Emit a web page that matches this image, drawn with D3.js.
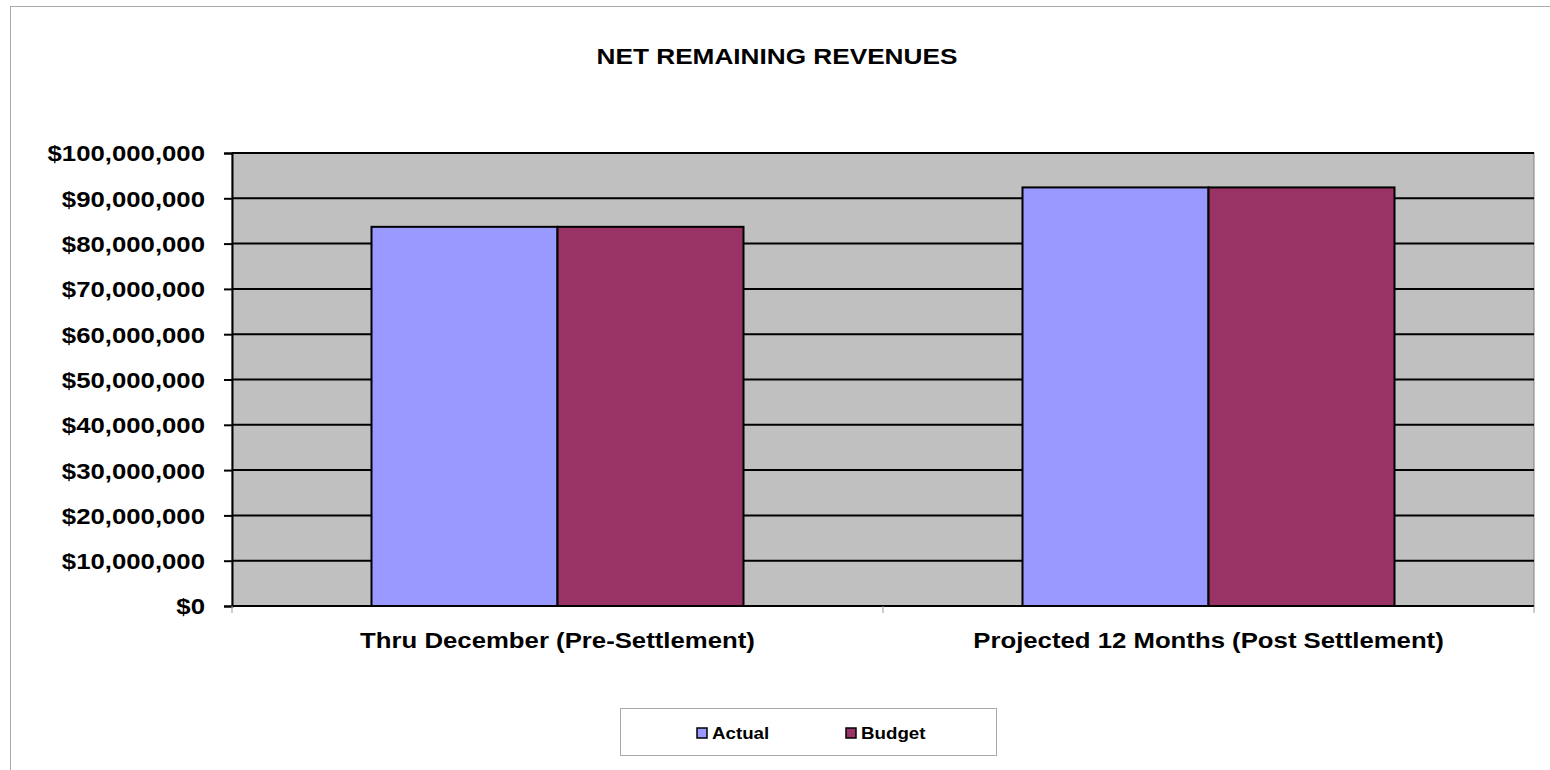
<!DOCTYPE html>
<html>
<head>
<meta charset="utf-8">
<script src="https://cdn.jsdelivr.net/npm/d3@7"></script>
<style>
  body { margin: 0; background: #fff; }
  text { font-family: Arial, "Liberation Sans", sans-serif; font-weight: bold; fill: #000; }
</style>
</head>
<body>
<div id="chart"></div>
<script>
// Chart data
const categories = ["Thru December (Pre-Settlement)", "Projected 12 Months (Post Settlement)"];
const seriesNames = ["Actual", "Budget"];
const actualValues = [83700000, 92400000];
const budgetValues = [83700000, 92400000];
const yTicks = [0, 10000000, 20000000, 30000000, 40000000, 50000000, 60000000, 70000000, 80000000, 90000000, 100000000];
const colors = ["#9999ff", "#993366"];

const width = 1550, height = 770;
const margin = { top: 153, right: 16, bottom: 164, left: 232 };
const innerW = width - margin.left - margin.right;
const innerH = height - margin.top - margin.bottom;

// the original picture is a bit wider than tall, text looks stretched sideways
const textStretch = 1.17;
function stretch(sel, k) {
  sel.each(function() {
    const w = this.getComputedTextLength();
    d3.select(this)
      .attr("textLength", w * k)
      .attr("lengthAdjust", "spacingAndGlyphs");
  });
}

const svg = d3.select("#chart").append("svg")
  .attr("width", width)
  .attr("height", height);

// chart area border
svg.append("rect")
  .attr("x", 10.5).attr("y", 6.5)
  .attr("width", width + 20).attr("height", height + 20)
  .attr("fill", "#fff")
  .attr("stroke", "#aaaaaa");

svg.append("text")
  .attr("x", 777).attr("y", 64)
  .attr("text-anchor", "middle")
  .style("font-size", "22px")
  .text("NET REMAINING REVENUES")
  .call(stretch, 1.19);

const g = svg.append("g").attr("transform", `translate(${margin.left},${margin.top})`);

const x0 = d3.scaleBand().domain(categories).range([0, innerW]).paddingInner(0);
// Excel gap width 150%: two bars take 2/3.5 of each category
const x1 = d3.scaleBand().domain(seriesNames)
  .range([x0.bandwidth() * 0.75 / 3.5, x0.bandwidth() * (1 - 0.75 / 3.5)]);
const y = d3.scaleLinear().domain([0, 100000000]).range([innerH, 0]);

// plot area
g.append("rect")
  .attr("width", innerW).attr("height", innerH)
  .attr("fill", "#c0c0c0")
  .attr("stroke", "#808080");

// gridlines
g.selectAll(".grid").data(yTicks.slice(1)).join("line")
  .attr("x1", 0).attr("x2", innerW)
  .attr("y1", d => y(d)).attr("y2", d => y(d))
  .attr("stroke", "#000").attr("stroke-width", 2);

// bars
const table = categories.map((c, i) => ({ cat: c, values: [actualValues[i], budgetValues[i]] }));
g.selectAll(".grp").data(table).join("g")
  .attr("transform", d => `translate(${x0(d.cat)},0)`)
  .selectAll("rect").data(d => d.values.map((v, j) => ({ key: seriesNames[j], v, j })))
  .join("rect")
  .attr("x", d => x1(d.key))
  .attr("width", x1.bandwidth())
  .attr("y", d => y(d.v))
  .attr("height", d => innerH - y(d.v))
  .attr("fill", d => colors[d.j])
  .attr("stroke", "#000").attr("stroke-width", 2);

// y axis
const yAxis = d3.axisLeft(y).tickValues(yTicks).tickSize(8).tickPadding(19)
  .tickFormat(d => "$" + d3.format(",")(d));
const yAxisG = g.append("g").call(yAxis);
yAxisG.select(".domain").attr("stroke", "#000").attr("stroke-width", 2);
yAxisG.selectAll(".tick line").attr("stroke", "#000").attr("stroke-width", 2);
yAxisG.selectAll("text")
  .attr("fill", "#000")
  .style("font-size", "22px")
  .attr("dy", "0.36em")
  .call(stretch, textStretch);

// x axis
const xAxisG = g.append("g").attr("transform", `translate(0,${innerH})`);
xAxisG.append("line").attr("x1", 0).attr("x2", innerW)
  .attr("stroke", "#000").attr("stroke-width", 2);
xAxisG.selectAll(".ctick").data([0, 1, 2]).join("line")
  .attr("x1", d => d * x0.bandwidth()).attr("x2", d => d * x0.bandwidth())
  .attr("y1", 0).attr("y2", 7)
  .attr("stroke", "#999");
xAxisG.selectAll(".clabel").data(categories).join("text")
  .attr("x", d => x0(d) + x0.bandwidth() / 2)
  .attr("y", 42)
  .attr("text-anchor", "middle")
  .style("font-size", "22px")
  .text(d => d)
  .call(stretch, textStretch);

// legend
const legend = svg.append("g");
legend.append("rect")
  .attr("x", 620.5).attr("y", 708.5).attr("width", 376).attr("height", 47)
  .attr("fill", "#fff").attr("stroke", "#aaaaaa");
const legendX = [697, 846];
const items = legend.selectAll(".item").data(seriesNames).join("g")
  .attr("transform", (d, i) => `translate(${legendX[i]},728)`);
items.append("rect")
  .attr("width", 10).attr("height", 10)
  .attr("fill", (d, i) => colors[i])
  .attr("stroke", "#000").attr("stroke-width", 1.5);
items.append("text")
  .attr("x", 15).attr("y", 11)
  .style("font-size", "16px")
  .text(d => d)
  .call(stretch, textStretch);
</script>
</body>
</html>
